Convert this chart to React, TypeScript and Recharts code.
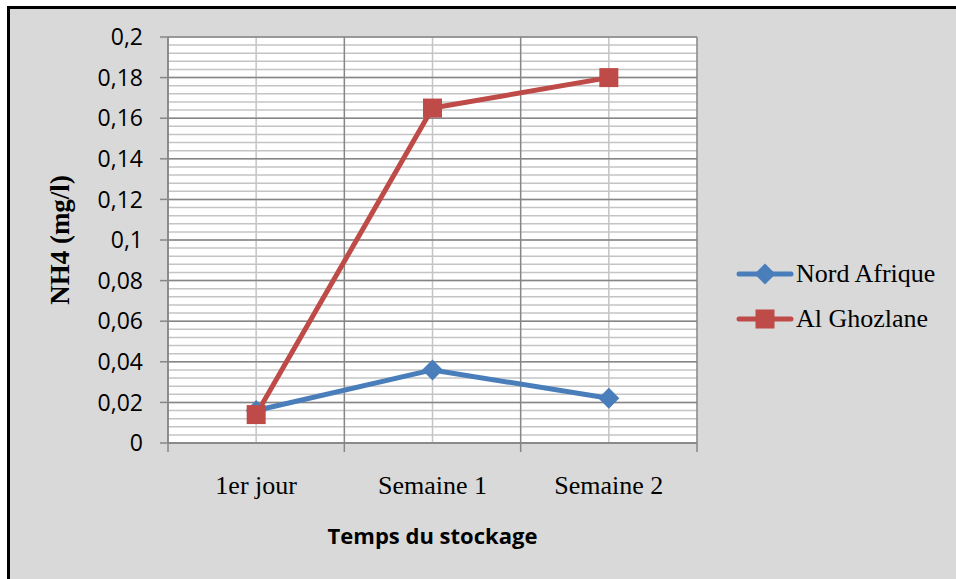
import React from "react";
import {
  LineChart,
  Line,
  XAxis,
  YAxis,
  CartesianGrid,
  Legend,
} from "recharts";

// Données
const categories = ["1er jour", "Semaine 1", "Semaine 2"];
const nordAfrique = [0.016, 0.036, 0.022];
const alGhozlane = [0.014, 0.165, 0.18];
const yTicks = [0, 0.02, 0.04, 0.06, 0.08, 0.1, 0.12, 0.14, 0.16, 0.18, 0.2];
const seriesNames = ["Nord Afrique", "Al Ghozlane"];
const seriesColors = ["#4A7EBB", "#BE4B48"];

const AXIS_GREY = "#868686";
const MINOR_GREY = "#C4C4C4";
const SERIF = "'Liberation Serif', 'Times New Roman', serif";
const SANS = "'Open Sans', 'Noto Sans', sans-serif";

// positions des catégories sur un axe numérique (centre de chaque bande)
const data = categories.map((name, i) => ({
  x: i + 0.5,
  name,
  nord: nordAfrique[i],
  ghoz: alGhozlane[i],
}));
const bandEdges = categories.map((_, i) => i).concat(categories.length);
const bandCenters = categories.map((_, i) => i + 0.5);
const xTicks = [...bandEdges, ...bandCenters].sort((a, b) => a - b);
const minorY = Array.from({ length: 51 }, (_, i) => +(i * 0.004).toFixed(3));

const fmt = (v: number) => String(v).replace(".", ",");

function XTick({ x, y, payload }: any) {
  const v = payload.value;
  if (Number.isInteger(v)) {
    return <line x1={x} x2={x} y1={y} y2={y + 9} stroke={AXIS_GREY} strokeWidth={1.5} />;
  }
  return (
    <text x={x} y={y + 51} textAnchor="middle" fontFamily={SERIF} fontSize={26} fill="#000">
      {categories[Math.floor(v)]}
    </text>
  );
}

function Diamond({ cx, cy, index, color }: any) {
  const r = 10.5;
  return (
    <path
      key={"d" + index}
      d={`M${cx},${cy - r}L${cx + r},${cy}L${cx},${cy + r}L${cx - r},${cy}Z`}
      fill={color}
    />
  );
}

function Square({ cx, cy, index, color }: any) {
  const h = 9.5;
  return <rect key={"s" + index} x={cx - h} y={cy - h} width={h * 2} height={h * 2} fill={color} />;
}

function LegendContent({ payload }: any) {
  const items = [...(payload || [])].sort(
    (a: any, b: any) => seriesNames.indexOf(a.value) - seriesNames.indexOf(b.value)
  );
  return (
    <div>
      {items.map((e: any, i: number) => {
        const k = seriesNames.indexOf(e.value);
        const color = seriesColors[k];
        return (
          <div key={i} style={{ display: "flex", alignItems: "center", height: 45 }}>
            <svg width={58} height={24}>
              <line x1={3} x2={55} y1={12} y2={12} stroke={color} strokeWidth={5} strokeLinecap="round" />
              {k === 0 ? (
                <Diamond cx={29} cy={12} index={i} color={color} />
              ) : (
                <Square cx={29} cy={12} index={i} color={color} />
              )}
            </svg>
            <span style={{ fontFamily: SERIF, fontSize: 26, marginLeft: 2, color: "#000" }}>{e.value}</span>
          </div>
        );
      })}
    </div>
  );
}

export default function App() {
  return (
    <div style={{ position: "fixed", left: 0, top: 0, width: 956, height: 579, overflow: "hidden" }}>
      <div
        style={{
          position: "absolute",
          left: 7,
          top: 6,
          width: 1000,
          height: 600,
          border: "3px solid #000",
          background: "#D9D9D9",
        }}
      />
      <div style={{ position: "absolute", left: 0, top: 0 }}>
        <LineChart
          width={956}
          height={579}
          data={data}
          margin={{ top: 37, right: 259, bottom: 86, left: 0 }}
        >
          <CartesianGrid
            fill="#FFFFFF"
            stroke={MINOR_GREY}
            strokeWidth={1.5}
            horizontalValues={minorY}
            verticalValues={bandCenters}
          />
          <CartesianGrid
            stroke={AXIS_GREY}
            strokeWidth={1.5}
            horizontalValues={yTicks}
            verticalValues={bandEdges}
          />
          <XAxis
            type="number"
            dataKey="x"
            domain={[0, categories.length]}
            ticks={xTicks}
            interval={0}
            height={50}
            tickSize={0}
            tickMargin={0}
            tickLine={false}
            axisLine={{ stroke: AXIS_GREY, strokeWidth: 1.5 }}
            tick={<XTick />}
            label={{
              content: ({ viewBox }: any) => (
                <text
                  x={viewBox.x + viewBox.width / 2}
                  y={viewBox.y + 92}
                  textAnchor="middle"
                  dominantBaseline="central"
                  fontFamily={SANS}
                  fontWeight={700}
                  fontSize={22}
                  fill="#000"
                >
                  Temps du stockage
                </text>
              ),
            }}
          />
          <YAxis
            type="number"
            domain={[0, 0.2]}
            ticks={yTicks}
            interval={0}
            width={168}
            tickSize={8}
            tickMargin={17}
            tickFormatter={fmt}
            tickLine={{ stroke: AXIS_GREY, strokeWidth: 1.5 }}
            axisLine={{ stroke: AXIS_GREY, strokeWidth: 1.5 }}
            tick={{ fill: "#000", fontSize: 23, fontFamily: SANS }}
            label={{
              content: ({ viewBox }: any) => (
                <text
                  transform={`translate(${viewBox.x + 60}, ${viewBox.y + viewBox.height / 2}) rotate(-90)`}
                  textAnchor="middle"
                  dominantBaseline="central"
                  fontFamily={SERIF}
                  fontWeight={700}
                  fontSize={27}
                  fill="#000"
                >
                  NH4 (mg/l)
                </text>
              ),
            }}
          />
          <Line
            name={seriesNames[0]}
            dataKey="nord"
            stroke={seriesColors[0]}
            strokeWidth={5}
            strokeLinejoin="round"
            dot={(p: any) => <Diamond {...p} color={seriesColors[0]} />}
            activeDot={false}
            isAnimationActive={false}
          />
          <Line
            name={seriesNames[1]}
            dataKey="ghoz"
            stroke={seriesColors[1]}
            strokeWidth={5}
            strokeLinejoin="round"
            dot={(p: any) => <Square {...p} color={seriesColors[1]} />}
            activeDot={false}
            isAnimationActive={false}
          />
          <Legend
            layout="vertical"
            align="center"
            verticalAlign="middle"
            content={<LegendContent />}
            wrapperStyle={{ position: "absolute", left: 736, top: 251, width: 220, height: 90 }}
          />
        </LineChart>
      </div>
    </div>
  );
}
